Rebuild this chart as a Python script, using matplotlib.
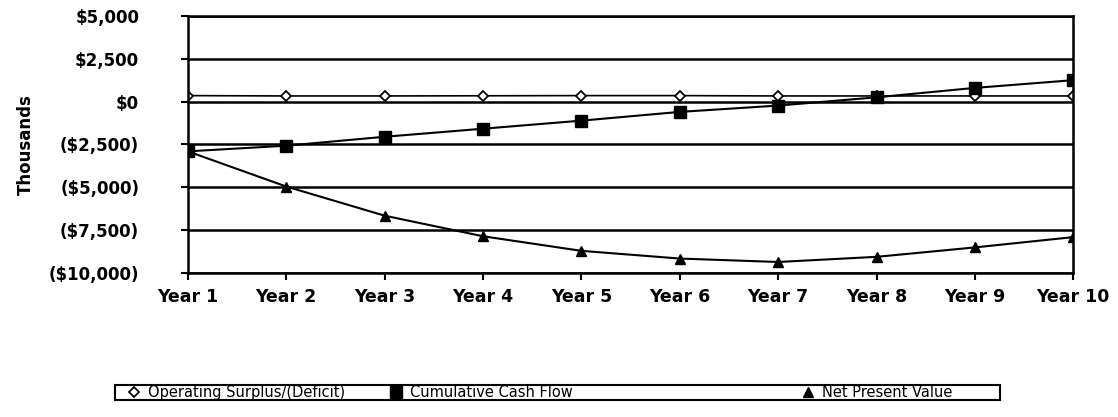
import numpy as np
import matplotlib.pyplot as plt
from matplotlib.ticker import FuncFormatter
from matplotlib.patches import Rectangle

years = ["Year 1", "Year 2", "Year 3", "Year 4", "Year 5",
         "Year 6", "Year 7", "Year 8", "Year 9", "Year 10"]
operating_surplus = [350, 330, 330, 340, 350, 350, 330, 330, 330, 330]
cumulative_cash = [-2900, -2570, -2050, -1580, -1110, -600, -230, 250, 800, 1250]
net_present_value = [-2900, -4950, -6650, -7850, -8700, -9150, -9350, -9050, -8500, -7900]

plt.rcParams['font.family'] = ['DejaVu Sans']

def money(v, pos):
    if v < 0:
        return "(${:,.0f})".format(-v)
    return "${:,.0f}".format(v)

W, H = 1118, 417
fig = plt.figure(figsize=(W / 100, H / 100), dpi=100)
ax = fig.add_axes([0.168, 0.345, 0.792, 0.617])

x = np.arange(1, len(years) + 1)

l1, = ax.plot(x, operating_surplus, color='black', lw=1.2, marker='D', ms=5,
              mfc='white', mec='black', mew=1.3, label='Operating Surplus/(Deficit)')
l2, = ax.plot(x, cumulative_cash, color='black', lw=1.5, marker='s', ms=9,
              mfc='black', mec='black', label='Cumulative Cash Flow')
l3, = ax.plot(x, net_present_value, color='black', lw=1.5, marker='^', ms=7,
              mfc='black', mec='black', label='Net Present Value')

ax.set_xlim(1, 10)
ax.set_ylim(-10000, 5000)
ax.set_yticks(np.arange(-10000, 5001, 2500))
ax.yaxis.set_major_formatter(FuncFormatter(money))
ax.set_xticks(x)
ax.set_xticklabels(years)
ax.grid(axis='y', color='black', lw=1.8)
ax.set_axisbelow(True)

for s in ax.spines.values():
    s.set_linewidth(1.8)

ax.tick_params(axis='both', direction='out', length=5, width=1.5,
               labelsize=12)
ax.tick_params(axis='x', pad=6, labelsize=12.5)
ax.tick_params(axis='y', pad=30)
for lbl in ax.get_xticklabels() + ax.get_yticklabels():
    lbl.set_fontweight('bold')

ax.set_ylabel("Thousands", fontsize=12, fontweight='bold', labelpad=10)

# legend frame + three entries
box_l, box_r, box_t, box_b = 115, 1000, 385, 400
fig.patches.append(Rectangle((box_l / W, 1 - box_b / H), (box_r - box_l) / W,
                             (box_b - box_t) / H, transform=fig.transFigure,
                             fill=False, edgecolor='black', lw=1.5))
yc = 1 - (box_t + box_b) / 2 / H
for line, xpos in zip([l1, l2, l3], [119, 381, 793]):
    lg = fig.legend(handles=[line], loc='center left',
                    bbox_to_anchor=(xpos / W, yc), frameon=False,
                    fontsize=10.5, handlelength=1.0, handletextpad=0.5,
                    borderpad=0.0)
    for h in lg.legend_handles:
        h.set_linestyle('None')

fig.savefig("out.png", dpi=100)
